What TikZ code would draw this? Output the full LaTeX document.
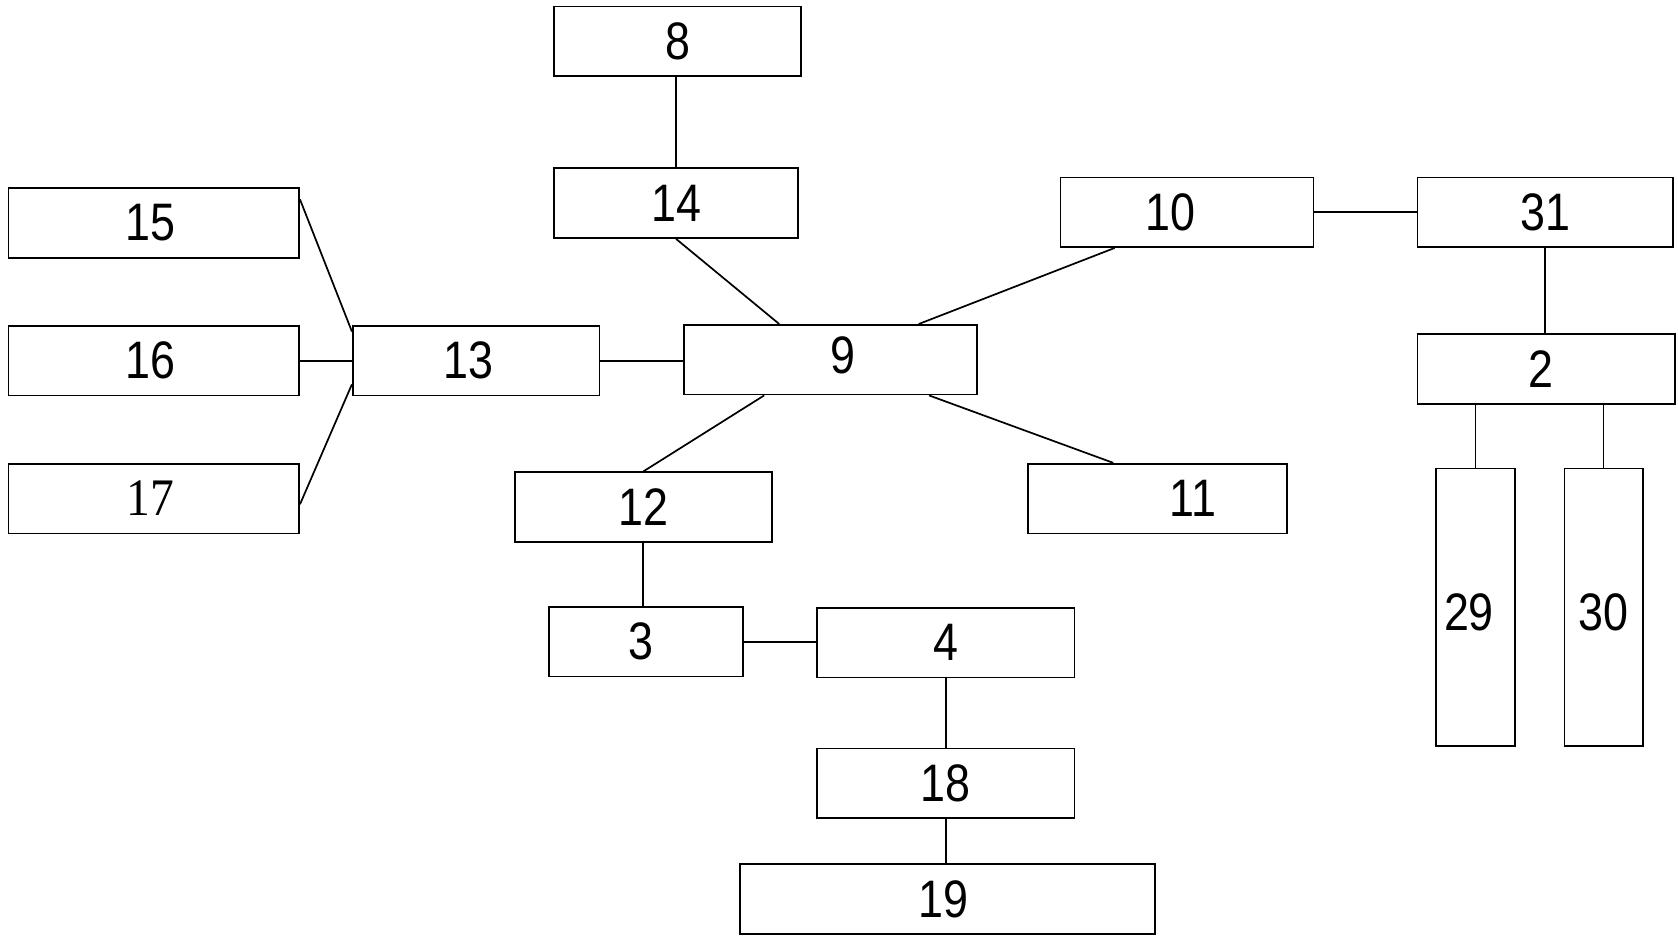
\documentclass[tikz,border=0pt]{standalone}
\usepackage{fontspec}
\setmainfont{Liberation Sans}[FakeStretch=0.85]
\newfontfamily\numserif{Liberation Serif}[FakeStretch=0.9]
\usetikzlibrary{calc}
\begin{document}
\begin{tikzpicture}[
    block/.style={draw, line width=0.016cm, rectangle, inner sep=0pt,
                  minimum width=#1, minimum height=0.650000cm},
    tall/.style={draw, line width=0.016cm, rectangle, inner sep=0pt,
                 minimum width=#1, minimum height=2.590000cm},
    link/.style={line width=0.016cm}
  ]
                        \useasboundingbox (0.000000,0.000000) rectangle (15.650000,8.780000);
                        {\fontsize{14}{16}\selectfont

                        % Marking blocks of the upper branch
                        \node [block=2.300000cm] (n8)  at (6.320000,8.395000) {8};%
                        \node [block=2.270000cm] (n14) at (6.305000,6.885000) {14};%

                        % Marking blocks of the left branch
                        \node [block=2.710000cm, label={[xshift=-0.035000cm]center:15}] (n15) at (1.435000,6.700000) {};%
                        \node [block=2.710000cm, label={[xshift=-0.035000cm]center:16}] (n16) at (1.435000,5.415000) {};%
                        \node [block=2.710000cm, label={[xshift=-0.035000cm]center:\numserif 17}] (n17) at (1.435000,4.130000) {};%
                        \node [block=2.300000cm, label={[xshift=-0.070000cm]center:13}] (n13) at (4.440000,5.415000) {};%

                        % Marking the middle block 9 and its neighbours
                        \node [block=2.730000cm, label={[xshift=0.120000cm, yshift=0.040000cm]center:9}] (n9) at (7.745000,5.425000) {};%
                        \node [block=2.360000cm, label={[xshift=-0.150000cm]center:10}] (n10) at (11.070000,6.800000) {};%
                        \node [block=2.410000cm, label={[xshift=0.330000cm]center:11}] (n11) at (10.795000,4.130000) {};%
                        \node [block=2.400000cm] (n12) at (6.000000,4.050000) {12};%

                        % Marking blocks of the lower branch
                        \node [block=1.810000cm, label={[xshift=-0.045000cm]center:3}] (n3) at (6.025000,2.795000) {};%
                        \node [block=2.400000cm] (n4)  at (8.820000,2.785000) {4};%
                        \node [block=2.400000cm] (n18) at (8.820000,1.475000) {18};%
                        \node [block=3.870000cm, label={[xshift=-0.035000cm]center:19}] (n19) at (8.835000,0.395000) {};%

                        % Marking blocks of the right branch
                        \node [block=2.380000cm] (n31) at (14.410000,6.800000) {31};%
                        \node [block=2.400000cm, label={[xshift=-0.050000cm]center:2}] (n2) at (14.420000,5.340000) {};%
                        \node [tall=0.740000cm, label={[xshift=-0.060000cm, yshift=-0.050000cm]center:29}] (n29) at (13.760000,3.115000) {};%
                        \node [tall=0.730000cm, label={[yshift=-0.050000cm]center:30}] (n30) at (14.955000,3.115000) {};%

                        % Drawing lines round 9
                        \draw [link] (n14.north) -- (n14.north |- n8.south);%
                        \draw [link] (n14.south) -- ($(n9.north west)!0.326!(n9.north east)$);%
                        \draw [link] ($(n10.south west)!0.216!(n10.south east)$) -- ($(n9.north west)!0.800!(n9.north east)$);%
                        \draw [link] (n13.east) -- (n13.east -| n9.west);%
                        \draw [link] ($(n9.south west)!0.275!(n9.south east)$) -- (n12.north);%
                        \draw [link] ($(n9.south west)!0.835!(n9.south east)$) -- ($(n11.north west)!0.330!(n11.north east)$);%

                        % Drawing lines into 13
                        \draw [link] ($(n15.north east)!0.170!(n15.south east)$) -- ($(n13.north west)!0.090!(n13.south west)$);%
                        \draw [link] (n16.east) -- (n16.east -| n13.west);%
                        \draw [link] ($(n17.north east)!0.580!(n17.south east)$) -- ($(n13.north west)!0.830!(n13.south west)$);%

                        % Drawing lines of the lower branch
                        \draw [link] (n12.south) -- (n12.south |- n3.north);%
                        \draw [link] (n3.east) -- (n3.east -| n4.west);%
                        \draw [link] (n4.south) -- (n18.north);%
                        \draw [link] (n18.south) -- (n18.south |- n19.north);%

                        % Drawing lines of the right branch
                        \draw [link] (n10.east) -- (n31.west);%
                        \draw [link] (n31.south) -- (n31.south |- n2.north);%
                        \draw [link] (n29.north) -- (n29.north |- n2.south);%
                        \draw [link] (n30.north) -- (n30.north |- n2.south);%
                        }
\end{tikzpicture}
\end{document}
